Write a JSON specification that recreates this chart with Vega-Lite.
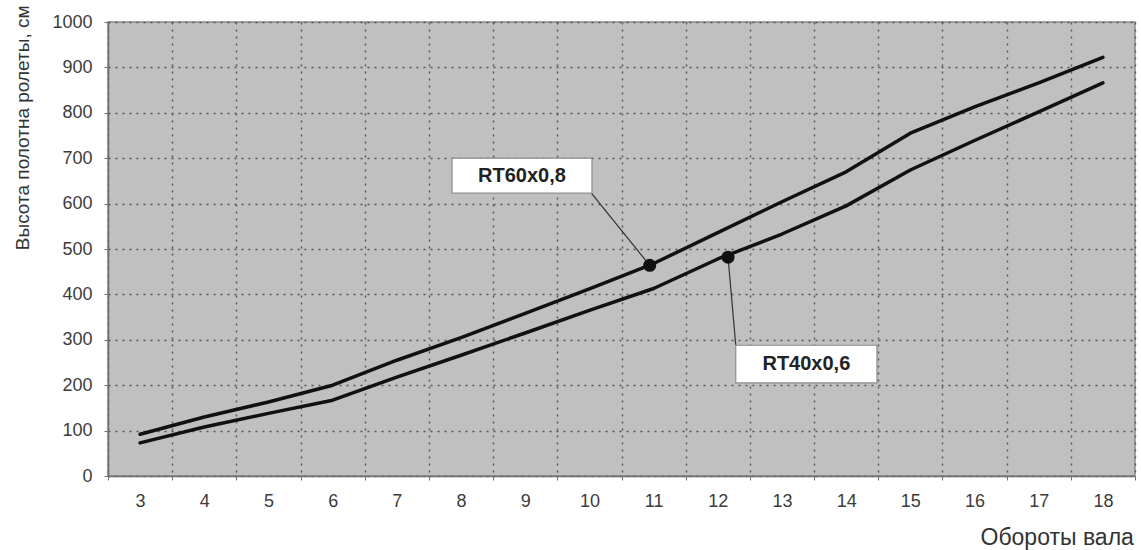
{
  "$schema": "https://vega.github.io/schema/vega-lite/v6.json",
  "width": 1027,
  "height": 454,
  "autosize": {"type": "none"},
  "padding": {"left": 108, "top": 22, "right": 6, "bottom": 74},
  "background": "#ffffff",
  "config": {
    "view": {"fill": "#c0c0c0", "stroke": "#8a8a8a", "strokeWidth": 1.5},
    "axis": {
      "labelFont": "Liberation Sans",
      "labelFontSize": 18,
      "labelColor": "#3c3c3c",
      "titleFont": "Liberation Sans",
      "titleFontWeight": "normal",
      "titleColor": "#333333",
      "domainColor": "#707070",
      "domainWidth": 1.5,
      "tickColor": "#707070",
      "tickSize": 4,
      "gridColor": "#555555",
      "gridDash": [2, 5],
      "gridWidth": 1.4,
      "gridOpacity": 1
    }
  },
  "datasets": {
    "lines": [
      {"x": 3, "y": 92, "series": "RT60x0,8"},
      {"x": 4, "y": 130, "series": "RT60x0,8"},
      {"x": 5, "y": 163, "series": "RT60x0,8"},
      {"x": 6, "y": 200, "series": "RT60x0,8"},
      {"x": 7, "y": 255, "series": "RT60x0,8"},
      {"x": 8, "y": 305, "series": "RT60x0,8"},
      {"x": 9, "y": 358, "series": "RT60x0,8"},
      {"x": 10, "y": 412, "series": "RT60x0,8"},
      {"x": 11, "y": 468, "series": "RT60x0,8"},
      {"x": 12, "y": 536, "series": "RT60x0,8"},
      {"x": 13, "y": 604, "series": "RT60x0,8"},
      {"x": 14, "y": 670, "series": "RT60x0,8"},
      {"x": 15, "y": 755, "series": "RT60x0,8"},
      {"x": 16, "y": 813, "series": "RT60x0,8"},
      {"x": 17, "y": 866, "series": "RT60x0,8"},
      {"x": 18, "y": 922, "series": "RT60x0,8"},
      {"x": 3, "y": 73, "series": "RT40x0,6"},
      {"x": 4, "y": 108, "series": "RT40x0,6"},
      {"x": 5, "y": 138, "series": "RT40x0,6"},
      {"x": 6, "y": 167, "series": "RT40x0,6"},
      {"x": 7, "y": 218, "series": "RT40x0,6"},
      {"x": 8, "y": 266, "series": "RT40x0,6"},
      {"x": 9, "y": 315, "series": "RT40x0,6"},
      {"x": 10, "y": 365, "series": "RT40x0,6"},
      {"x": 11, "y": 413, "series": "RT40x0,6"},
      {"x": 12, "y": 478, "series": "RT40x0,6"},
      {"x": 13, "y": 533, "series": "RT40x0,6"},
      {"x": 14, "y": 595, "series": "RT40x0,6"},
      {"x": 15, "y": 674, "series": "RT40x0,6"},
      {"x": 16, "y": 739, "series": "RT40x0,6"},
      {"x": 17, "y": 802, "series": "RT40x0,6"},
      {"x": 18, "y": 866, "series": "RT40x0,6"}
    ],
    "callouts": [
      {"label": "RT60x0,8", "px": 10.94, "py": 464, "bx1": 7.86, "bx2": 10.04, "by1": 623, "by2": 700, "cx": 10.03, "cy": 623, "tx": 8.95, "ty": 661},
      {"label": "RT40x0,6", "px": 12.16, "py": 482, "bx1": 12.28, "bx2": 14.48, "by1": 205, "by2": 288, "cx": 12.28, "cy": 288, "tx": 13.38, "ty": 246}
    ]
  },
  "layer": [
    {
      "data": {"name": "lines"},
      "mark": {"type": "line", "color": "#111111", "strokeWidth": 3.5, "strokeCap": "round", "strokeJoin": "round"},
      "encoding": {
        "x": {
          "field": "x", "type": "quantitative",
          "scale": {"domain": [2.5, 18.5], "nice": false, "zero": false},
          "axis": {
            "values": [2.5, 3.5, 4.5, 5.5, 6.5, 7.5, 8.5, 9.5, 10.5, 11.5, 12.5, 13.5, 14.5, 15.5, 16.5, 17.5, 18.5],
            "labelExpr": "datum.value < 18 ? toString(datum.value + 0.5) : ''",
            "labelOffset": 32.1,
            "labelFlush": false,
            "labelOverlap": false,
            "labelPadding": 12,
            "grid": true,
            "title": "Обороты вала",
            "titleFontSize": 23,
            "titleAnchor": "start",
            "titleAlign": "left",
            "titleBaseline": "middle",
            "titleX": 872,
            "titleY": 61
          }
        },
        "y": {
          "field": "y", "type": "quantitative",
          "scale": {"domain": [0, 1000], "nice": false},
          "axis": {
            "values": [0, 100, 200, 300, 400, 500, 600, 700, 800, 900, 1000],
            "format": "d",
            "grid": true,
            "labelPadding": 12,
            "title": "Высота полотна ролеты, см",
            "titleFontSize": 19,
            "titleAngle": -90,
            "titleAlign": "right",
            "titleBaseline": "middle",
            "titleX": -86,
            "titleY": -17
          }
        },
        "detail": {"field": "series", "type": "nominal"}
      }
    },
    {
      "data": {"name": "callouts"},
      "mark": {"type": "rule", "color": "#333333", "strokeWidth": 1.2},
      "encoding": {
        "x": {"field": "cx", "type": "quantitative"},
        "y": {"field": "cy", "type": "quantitative"},
        "x2": {"field": "px"},
        "y2": {"field": "py"}
      }
    },
    {
      "data": {"name": "callouts"},
      "mark": {"type": "circle", "color": "#111111", "opacity": 1, "size": 170},
      "encoding": {
        "x": {"field": "px", "type": "quantitative"},
        "y": {"field": "py", "type": "quantitative"}
      }
    },
    {
      "data": {"name": "callouts"},
      "mark": {"type": "rect", "fill": "#ffffff", "stroke": "#8c8c8c", "strokeWidth": 1.2},
      "encoding": {
        "x": {"field": "bx1", "type": "quantitative"},
        "x2": {"field": "bx2"},
        "y": {"field": "by1", "type": "quantitative"},
        "y2": {"field": "by2"}
      }
    },
    {
      "data": {"name": "callouts"},
      "mark": {"type": "text", "font": "Liberation Sans", "fontSize": 20, "fontWeight": "bold", "color": "#222222", "align": "center", "baseline": "middle"},
      "encoding": {
        "x": {"field": "tx", "type": "quantitative"},
        "y": {"field": "ty", "type": "quantitative"},
        "text": {"field": "label", "type": "nominal"}
      }
    }
  ]
}
